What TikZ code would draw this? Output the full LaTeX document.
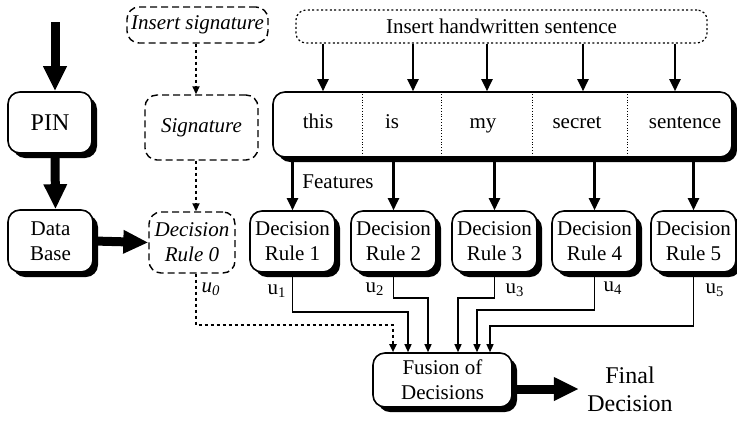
\documentclass[tikz,border=0pt]{standalone}
\usepackage{fontspec}
\setmainfont{Liberation Serif}
\usetikzlibrary{arrows.meta,shadows}
\newcommand{\baseSize}{\fontsize{10.5}{12.5}\selectfont}
\newcommand{\bigSize}{\fontsize{12}{14}\selectfont}

\begin{document}
\begin{tikzpicture}
      [ x=0.5pt, y=-0.5pt
      , every node/.style={font=\baseSize, align=center, inner sep=0pt}
      , solidBox/.style={draw, line width=0.8pt, rounded corners=6pt, fill=white,
          drop shadow={shadow xshift=2.5pt, shadow yshift=-2.5pt, fill=black, opacity=1}}
      , ruleBox/.style={solidBox, minimum width=42.5pt, minimum height=30.5pt}
      , dashedBox/.style={draw, line width=0.7pt, rounded corners=6pt, dash pattern=on 3.5pt off 2pt}
      , dottedBox/.style={draw, line width=0.6pt, rounded corners=5pt, dash pattern=on 1pt off 1.2pt}
      , word/.style={text height=7.5pt, text depth=2.5pt}
      , bigArrow/.style={line width=4.5pt, -{Triangle[length=12.5pt, width=11pt]}}
      , midArrow/.style={line width=1.1pt, -{Triangle[length=6pt, width=5.5pt]}}
      , smallArrow/.style={line width=0.6pt, -{Triangle[length=4pt, width=3.5pt]}}
      , dottedArrow/.style={line width=0.9pt, dash pattern=on 1.6pt off 1.4pt,
          -{Triangle[length=4pt, width=3.5pt]}}
      ]
    \useasboundingbox (0,0) rectangle (737,423);

    % left column
    \node[solidBox, minimum width=42pt, minimum height=30.5pt, font=\bigSize] (PIN) at (50,122.5) {PIN};
    \node[solidBox, minimum width=42.5pt, minimum height=31pt] (DB) at (50.5,241) {Data\\Base};
    \coordinate (top) at (55,22);

    % signature column
    \node[dashedBox, minimum width=70.5pt, minimum height=18pt, font=\baseSize\itshape] (IS) at (197.5,25) {Insert signature};
    \node[dashedBox, minimum width=56.5pt, minimum height=32.5pt, font=\baseSize\itshape] (Sig) at (201.5,127.5) {Signature};
    \node[dashedBox, minimum width=43pt, minimum height=30.5pt, font=\baseSize\itshape] (R0) at (192,242.5) {Decision\\Rule 0};

    % sentence
    \node[dottedBox, minimum width=205.5pt, minimum height=16.5pt] (IHS) at (501.5,26.5) {Insert handwritten sentence};
    \node[solidBox, minimum width=229.5pt, minimum height=32.5pt] (S) at (502.5,124.5) {};
    \node[word] (w1) at (318,123) {this};
    \node[word] (w2) at (392,123) {is};
    \node[word] (w3) at (483,123) {my};
    \node[word] (w4) at (577,123) {secret};
    \node[word] (w5) at (685,123) {sentence};

    \draw
    (S.north -| 362,0) edge[densely dotted, line width=0.4pt] (S.south -| 362,0)
    (S.north -| 441,0) edge[densely dotted, line width=0.4pt] (S.south -| 441,0)
    (S.north -| 532,0) edge[densely dotted, line width=0.4pt] (S.south -| 532,0)
    (S.north -| 627,0) edge[densely dotted, line width=0.4pt] (S.south -| 627,0);

    % decision rules
    \node[ruleBox] (R1) at (292.5,241.5) {Decision\\Rule 1};
    \node[ruleBox] (R2) at (393.5,241.5) {Decision\\Rule 2};
    \node[ruleBox] (R3) at (494.5,241.5) {Decision\\Rule 3};
    \node[ruleBox] (R4) at (594.5,241.5) {Decision\\Rule 4};
    \node[ruleBox] (R5) at (693.5,241.5) {Decision\\Rule 5};

    \node[solidBox, minimum width=69.5pt, minimum height=27pt] (F) at (442.5,380) {Fusion of\\Decisions};
    \node[font=\bigSize, inner sep=4pt] (FD) at (630,389) {Final\\Decision};

    % thick arrows
    \draw[bigArrow] (top) -- (PIN.north -| top);
    \draw[bigArrow] ([xshift=2.5pt]PIN.south) -- ([xshift=2.5pt]DB.north);
    \draw[bigArrow] (DB.east) -- (R0.west);
    \draw[bigArrow] (F.east |- FD.west) -- (FD.west);

    % signature path
    \draw[dottedArrow] (IS.south -| 196,0) -- (Sig.north -| 196,0);
    \draw[dottedArrow] (Sig.south -| 196,0) -- (R0.north -| 196,0);

    % sentence path
    \draw
    (IHS.south -| 323,0) edge[midArrow] (S.north -| 323,0)
    (IHS.south -| 413,0) edge[midArrow] (S.north -| 413,0)
    (IHS.south -| 487,0) edge[midArrow] (S.north -| 487,0)
    (IHS.south -| 583,0) edge[midArrow] (S.north -| 583,0)
    (IHS.south -| 675,0) edge[midArrow] (S.north -| 675,0);

    \draw
    (S.south -| R1) edge[midArrow] (R1)
    (S.south -| R2) edge[midArrow] (R2)
    (S.south -| R3) edge[midArrow] (R3)
    (S.south -| R4) edge[midArrow] (R4)
    (S.south -| R5) edge[midArrow] (R5);

    \node (feat) at (338,182) {Features};

    % outputs to fusion
    \draw[dottedArrow] ([xshift=2pt]R0.south) |- (393,325) -- (F.north -| 393,0);
    \draw[smallArrow] (R1.south) |- (408,312) -- (F.north -| 408,0);
    \draw[smallArrow] (R2.south) |- (428,298) -- (F.north -| 428,0);
    \draw[smallArrow] (R3.south) |- (458,298) -- (F.north -| 458,0);
    \draw[smallArrow] (R4.south) |- (477,310) -- (F.north -| 477,0);
    \draw[smallArrow] (R5.south) |- (490,326) -- (F.north -| 490,0);

    \node (u0) at (211,289) {\textit{u\textsubscript{0}}};
    \node (u1) at (277,291) {u\textsubscript{1}};
    \node (u2) at (375,289) {u\textsubscript{2}};
    \node (u3) at (515,290) {u\textsubscript{3}};
    \node (u4) at (613,288) {u\textsubscript{4}};
    \node (u5) at (715,290) {u\textsubscript{5}};

  \end{tikzpicture}
\end{document}
